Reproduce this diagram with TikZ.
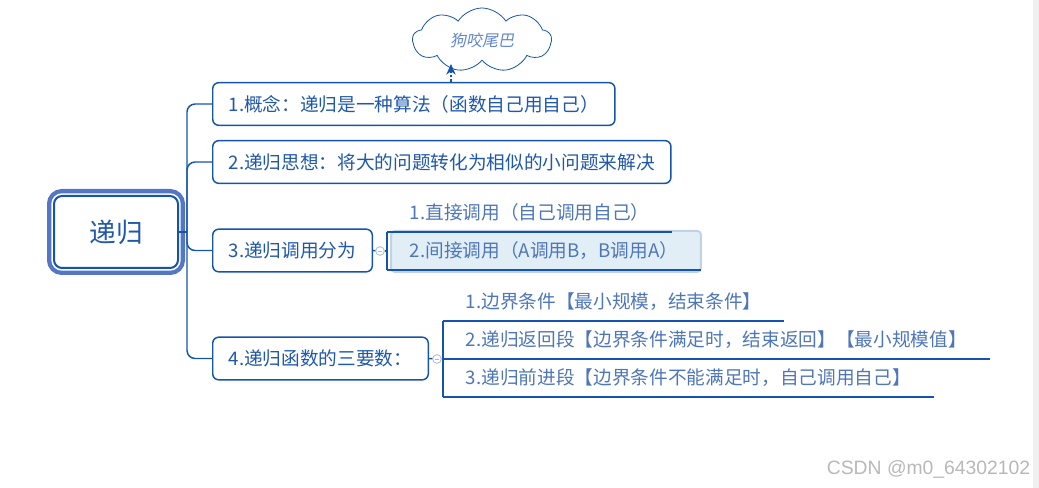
\documentclass[tikz,border=0pt]{standalone}
\usepackage{fontspec}
\setmainfont{Noto Sans CJK SC}
\newfontfamily\slantcjk[FakeSlant=0.2]{Noto Sans CJK SC}
\newfontfamily\markfont{Liberation Sans}
\usetikzlibrary{shapes.symbols, arrows.meta, positioning, calc, backgrounds}
\definecolor{lineblue}{RGB}{20,84,172}
\definecolor{topictext}{RGB}{32,88,172}
\definecolor{subtext}{RGB}{78,118,186}
\definecolor{haloblue}{RGB}{84,118,196}
\definecolor{selfill}{RGB}{226,238,245}
\definecolor{seledge}{RGB}{192,210,228}
\definecolor{foldgray}{RGB}{168,184,214}
\definecolor{notetext}{RGB}{96,134,204}

\begin{document}
\begin{tikzpicture}[
	x=0.75pt, y=-0.75pt,
	topic/.style={draw=lineblue, line width=1.1pt, rounded corners=4.5pt, fill=white, anchor=west, minimum height=32pt, inner xsep=12pt, text=topictext, font=\fontsize{14}{16}\selectfont},
	rootbox/.style={draw=lineblue, line width=1.5pt, rounded corners=6pt, fill=white, minimum width=93pt, minimum height=54pt, text=topictext, font=\fontsize{20}{22}\selectfont, preaction={draw=haloblue, line width=10.5pt}, preaction={draw=white, line width=4pt}},
	subtopic/.style={anchor=south west, inner xsep=17pt, inner ysep=6pt, text height=11pt, text depth=3pt, text=subtext, font=\fontsize{14}{16}\selectfont},
	branch/.style={draw=lineblue, line width=1.1pt},
	underline/.style={draw=lineblue, line width=1.5pt},
	fold/.style={circle, draw=foldgray, fill=white, line width=0.6pt, minimum size=6.5pt, inner sep=0pt, path picture={\draw[foldgray, line width=0.6pt] ([xshift=-1.8pt]path picture bounding box.center) -- ([xshift=1.8pt]path picture bounding box.center);}},
	selbox/.style={fill=selfill, draw=seledge, line width=1.5pt, rounded corners=3pt},
	cloudnote/.style={cloud, cloud puffs=9, cloud puff arc=115, aspect=2.4, draw=lineblue, line width=0.6pt, minimum width=104pt, minimum height=48pt, inner sep=1pt, text=notetext, font=\fontsize{12}{14}\selectfont\slantcjk},
	callout/.style={draw=lineblue, line width=0.8pt, dash pattern=on 2pt off 1.5pt, -{Stealth[length=8pt, width=7pt]}}
]
\useasboundingbox (0,0) rectangle (1039,488);
\fill[black!6] (1033,0) rectangle (1039,488);

% Central topic
\node[rootbox] (root) at (116,232) {递归};
\coordinate (hub) at (187,232);

% Main branches
\node[topic] (c1) at (212,104) {1.概念：递归是一种算法（函数自己用自己）};
\node[topic] (c2) at (212,162) {2.递归思想：将大的问题转化为相似的小问题来解决};
\node[topic] (c3) at (212,250.5) {3.递归调用分为};
\node[topic] (c4) at (212,358.5) {4.递归函数的三要数：};

\draw[branch] (root.east) -- (hub);
\foreach \c in {c1,c2,c3,c4}
	\draw[branch, rounded corners=6pt] (hub) |- (\c.west);

% Callout
\node[cloudnote] (note) at (482,40) {狗咬尾巴};
\coordinate (notetip) at (451,64);
\draw[callout] (c1.north -| notetip) -- (notetip);

% Subtopics of 3
\node[subtopic] (s31) at (387,232) {1.直接调用（自己调用自己）};
\node[subtopic] (s32) at (387,270) {2.间接调用（A调用B，B调用A）};
\begin{scope}[on background layer]
	\draw[selbox] ($(s32.south west)+(4,2)$) rectangle ($(s32.north east)+(0,-4)$);
\end{scope}
\node[fold] (k3) at (380,251) {};
\draw[branch] (c3.east) -- (k3);
\draw[branch] (k3) -- (k3 -| s31.south west);
\draw[underline] (s31.south west) -- (s32.south west);
\draw[underline] (s31.south west) -- (s31.south east);
\draw[underline] (s32.south west) -- (s32.south east);

% Subtopics of 4
\node[subtopic] (s41) at (443,321) {1.边界条件【最小规模，结束条件】};
\node[subtopic] (s42) at (443,359) {2.递归返回段【边界条件满足时，结束返回】【最小规模值】};
\node[subtopic] (s43) at (443,397) {3.递归前进段【边界条件不能满足时，自己调用自己】};
\node[fold] (k4) at (437,359) {};
\draw[branch] (c4.east) -- (k4);
\draw[branch] (k4) -- (s42.south west);
\draw[underline] (s41.south west) -- (s43.south west);
\foreach \s in {s41,s42,s43}
	\draw[underline] (\s.south west) -- (\s.south east);

% Watermark
\node[anchor=east, text=black!28, font=\markfont\fontsize{14.5}{16}\selectfont] (mark) at (1035,469) {CSDN @m0\_64302102};

\end{tikzpicture}
\end{document}
